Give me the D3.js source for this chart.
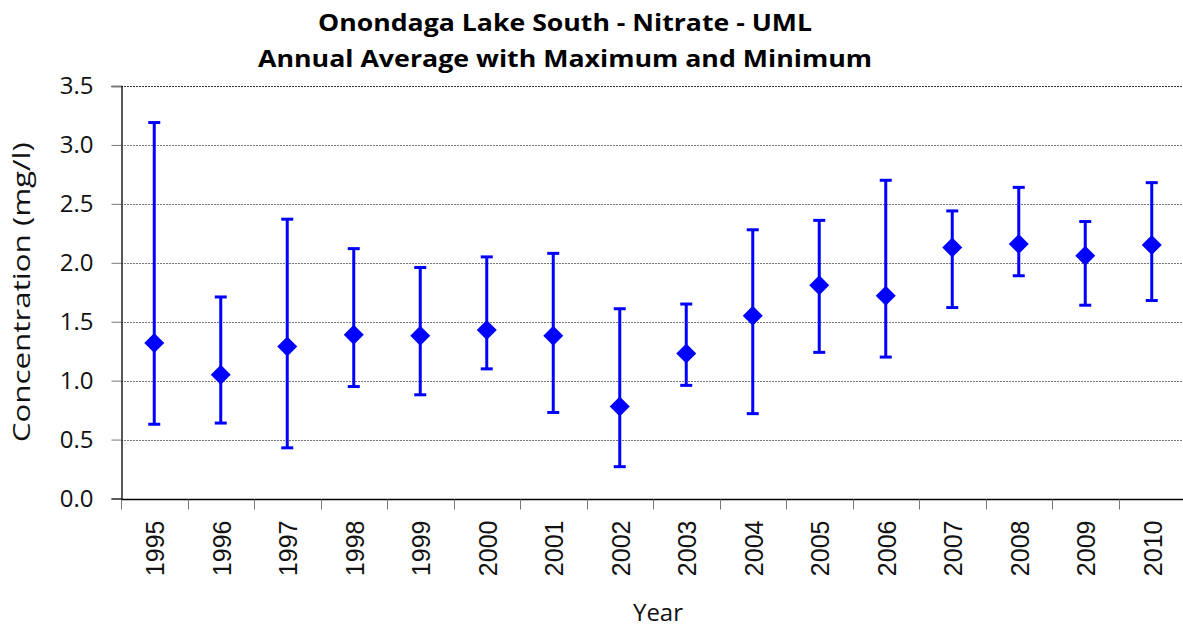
<!DOCTYPE html>
<html>
<head>
<meta charset="utf-8">
<script src="https://cdn.jsdelivr.net/npm/d3@7/dist/d3.min.js"></script>
<style>
  body { margin: 0; background: #fff; }
  svg { display: block; }
</style>
</head>
<body>
<svg id="chart" width="1183" height="630"></svg>
<script>
// Annual nitrate values
var years = ['1995', '1996', '1997', '1998', '1999', '2000', '2001', '2002',
             '2003', '2004', '2005', '2006', '2007', '2008', '2009', '2010'];
var averages = [1.32, 1.05, 1.29, 1.39, 1.38, 1.43, 1.38, 0.78,
                1.23, 1.55, 1.81, 1.72, 2.13, 2.16, 2.06, 2.15];
var maximums = [3.19, 1.71, 2.37, 2.12, 1.96, 2.05, 2.08, 1.61,
                1.65, 2.28, 2.36, 2.70, 2.44, 2.64, 2.35, 2.68];
var minimums = [0.63, 0.64, 0.43, 0.95, 0.88, 1.10, 0.73, 0.27,
                0.96, 0.72, 1.24, 1.20, 1.62, 1.89, 1.64, 1.68];
var yTicks = [0, 0.5, 1, 1.5, 2, 2.5, 3, 3.5];

var titleLines = ['Onondaga Lake South - Nitrate - UML',
                  'Annual Average with Maximum and Minimum'];

var svg = d3.select('#chart');
var plot = { left: 121, right: 1185, top: 86, bottom: 498.5 };
var BLUE = '#0000ff';
var LABEL_FONT = '"Open Sans", "Liberation Sans", sans-serif';

var x = d3.scaleBand().domain(years).range([plot.left, plot.right]);
var y = d3.scaleLinear().domain([0, 3.5]).range([plot.bottom, plot.top]);

// ─── grid ───────────────────────────────────────────────────────────────────
svg.append('g')
  .selectAll('line')
  .data(yTicks.filter(function (d) { return d > 0; }))
  .join('line')
  .attr('x1', plot.left).attr('x2', plot.right)
  .attr('y1', function (d) { return Math.round(y(d)) + 0.5; })
  .attr('y2', function (d) { return Math.round(y(d)) + 0.5; })
  .attr('stroke', function (d) { return d === 3.5 ? '#333' : '#777'; })
  .attr('stroke-width', 1)
  .attr('stroke-dasharray', '2 1');

// ─── axes ───────────────────────────────────────────────────────────────────
var yAxis = svg.append('g')
  .attr('transform', 'translate(' + (plot.left + 0.5) + ',0)')
  .call(d3.axisLeft(y).tickValues(yTicks).tickFormat(d3.format('.1f'))
    .tickSize(10).tickPadding(18));
yAxis.select('.domain').attr('stroke', '#000').attr('stroke-width', 1.3);
yAxis.selectAll('.tick line').attr('stroke', '#777');
yAxis.selectAll('.tick text')
  .attr('font-family', LABEL_FONT).attr('font-size', 24).attr('fill', '#111');

var xAxis = svg.append('g')
  .attr('transform', 'translate(0,' + (Math.round(plot.bottom) + 0.5) + ')');
xAxis.append('line')
  .attr('x1', plot.left).attr('x2', plot.right)
  .attr('stroke', '#000').attr('stroke-width', 1.5);
xAxis.selectAll('line.tick')
  .data(years)
  .join('line')
  .attr('class', 'tick')
  .attr('x1', function (d) { return Math.round(x(d)) + 0.5; })
  .attr('x2', function (d) { return Math.round(x(d)) + 0.5; })
  .attr('y1', 0).attr('y2', 10)
  .attr('stroke', '#777');
xAxis.selectAll('text')
  .data(years)
  .join('text')
  .attr('transform', function (d) {
    return 'translate(' + (x(d) + x.bandwidth() / 2 + 10) + ',21) rotate(-90)';
  })
  .attr('text-anchor', 'end')
  .attr('font-family', '"Liberation Sans", Arial, sans-serif')
  .attr('font-size', 25)
  .attr('fill', '#111')
  .text(function (d) { return d; });

// ─── error bars and markers ────────────────────────────────────────────────
var rows = years.map(function (yr, i) {
  return { year: yr, avg: averages[i], max: maximums[i], min: minimums[i] };
});
var cx = function (d) { return x(d.year) + x.bandwidth() / 2; };

var bars = svg.append('g').attr('stroke', BLUE).attr('stroke-width', 3);
bars.selectAll('line.stem')
  .data(rows).join('line')
  .attr('class', 'stem')
  .attr('x1', cx).attr('x2', cx)
  .attr('y1', function (d) { return y(d.max); })
  .attr('y2', function (d) { return y(d.min); });
['max', 'min'].forEach(function (key) {
  bars.selectAll('line.cap-' + key)
    .data(rows).join('line')
    .attr('class', 'cap-' + key)
    .attr('x1', function (d) { return cx(d) - 6; })
    .attr('x2', function (d) { return cx(d) + 6; })
    .attr('y1', function (d) { return y(d[key]); })
    .attr('y2', function (d) { return y(d[key]); });
});

var diamond = d3.symbol().type(d3.symbolSquare).size(200);
svg.append('g')
  .selectAll('path')
  .data(rows).join('path')
  .attr('d', diamond)
  .attr('transform', function (d) {
    return 'translate(' + cx(d) + ',' + y(d.avg) + ') rotate(45)';
  })
  .attr('fill', BLUE);

// ─── titles ─────────────────────────────────────────────────────────────────
svg.append('g')
  .selectAll('text')
  .data(titleLines).join('text')
  .attr('x', 565)
  .attr('y', function (d, i) { return 31 + i * 36; })
  .attr('text-anchor', 'middle')
  .attr('font-family', LABEL_FONT)
  .attr('font-weight', 'bold')
  .attr('font-size', 24)
  .attr('fill', '#000')
  .attr('textLength', function (d, i) { return i === 0 ? 494 : 614; })
  .attr('lengthAdjust', 'spacingAndGlyphs')
  .text(function (d) { return d; });

svg.append('text')
  .attr('transform', 'translate(30,' + ((plot.top + plot.bottom) / 2) + ') rotate(-90)')
  .attr('text-anchor', 'middle')
  .attr('font-family', LABEL_FONT)
  .attr('font-size', 24)
  .attr('fill', '#111')
  .attr('textLength', 300)
  .attr('lengthAdjust', 'spacingAndGlyphs')
  .text('Concentration (mg/l)');

svg.append('text')
  .attr('x', 658)
  .attr('y', 621)
  .attr('text-anchor', 'middle')
  .attr('font-family', LABEL_FONT)
  .attr('font-size', 24)
  .attr('fill', '#111')
  .text('Year');
</script>
</body>
</html>
